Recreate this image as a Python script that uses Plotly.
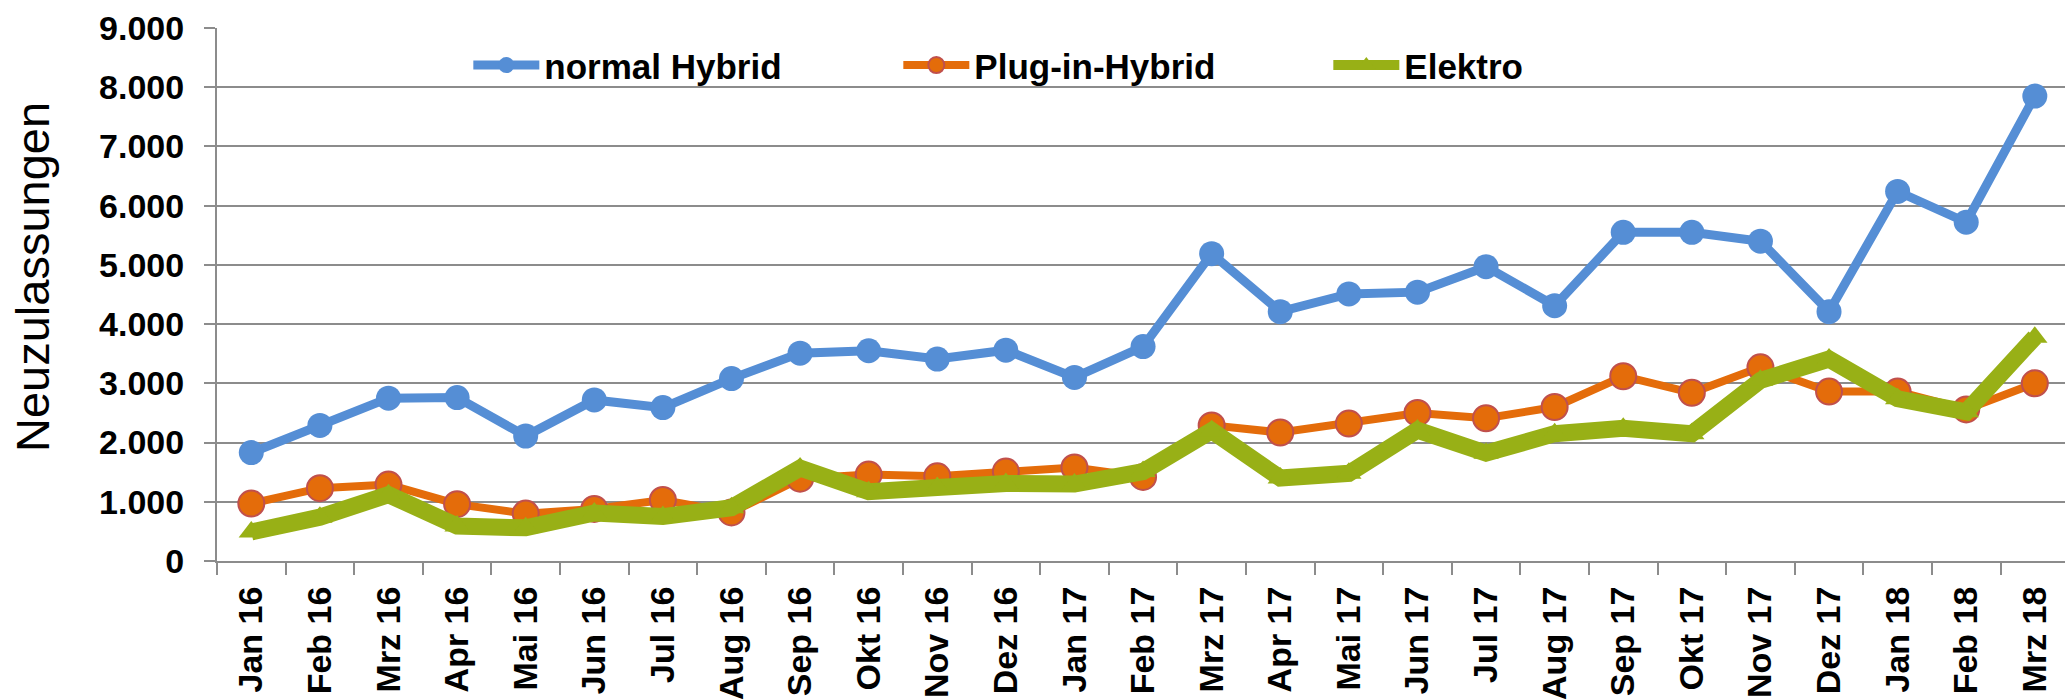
import plotly.graph_objects as go

months = ["Jan 16", "Feb 16", "Mrz 16", "Apr 16", "Mai 16", "Jun 16", "Jul 16", "Aug 16",
          "Sep 16", "Okt 16", "Nov 16", "Dez 16", "Jan 17", "Feb 17", "Mrz 17", "Apr 17",
          "Mai 17", "Jun 17", "Jul 17", "Aug 17", "Sep 17", "Okt 17", "Nov 17", "Dez 17",
          "Jan 18", "Feb 18", "Mrz 18"]

normal_hybrid = [1830, 2290, 2750, 2760, 2110, 2720, 2590, 3080, 3510, 3550, 3410, 3560, 3100,
                 3620, 5190, 4210, 4510, 4540, 4970, 4310, 5550, 5550, 5400, 4210, 6240, 5720, 7850]
plug_in_hybrid = [970, 1230, 1290, 960, 800, 880, 1030, 820, 1390, 1460, 1430, 1510, 1580,
                  1420, 2290, 2170, 2320, 2500, 2410, 2600, 3120, 2840, 3270, 2860, 2860, 2560, 3000]
elektro = [490, 740, 1120, 590, 560, 810, 750, 900, 1570, 1170, 1240, 1310, 1300,
           1510, 2200, 1400, 1480, 2210, 1820, 2150, 2240, 2150, 3050, 3410, 2740, 2520, 3780]

series_names = ["normal Hybrid", "Plug-in-Hybrid", "Elektro"]
y_ticks = [0, 1000, 2000, 3000, 4000, 5000, 6000, 7000, 8000, 9000]
y_title = "Neuzulassungen"

FONT = "Liberation Sans, Arial, sans-serif"
GRID = "#8c8c8c"

fig = go.Figure()
fig.add_trace(go.Scatter(
    x=months, y=normal_hybrid, name=series_names[0], mode="lines+markers",
    line=dict(color="#558ED5", width=9),
    marker=dict(symbol="circle", size=25, color="#558ED5", line=dict(width=0)),
))
fig.add_trace(go.Scatter(
    x=months, y=plug_in_hybrid, name=series_names[1], mode="lines+markers",
    line=dict(color="#E46C0A", width=8),
    marker=dict(symbol="circle", size=26, color="#E46C0A", line=dict(width=2, color="#C0504D")),
))
fig.add_trace(go.Scatter(
    x=months, y=elektro, name=series_names[2], mode="lines+markers",
    line=dict(color="#98B016", width=17),
    marker=dict(symbol="triangle-up", size=22, color="#98B016", line=dict(width=0)),
))

fig.update_layout(
    width=2065, height=700,
    margin=dict(l=217, r=0, t=28, b=137),
    paper_bgcolor="white", plot_bgcolor="white",
    separators=",.",
    font=dict(family=FONT, size=34, color="black"),
    showlegend=True,
    legend=dict(
        orientation="h", x=0.136, xanchor="left", y=0.93, yanchor="middle",
        bgcolor="rgba(0,0,0,0)", font=dict(family=FONT, size=35, weight="bold"),
        entrywidth=349, entrywidthmode="pixels", itemwidth=66,
    ),
    xaxis=dict(
        type="category", range=[-0.5, 26.44],
        tickangle=-90, tickson="boundaries", ticks="outside", ticklen=12, tickwidth=2,
        tickcolor=GRID, showline=True, linecolor=GRID, linewidth=2, showgrid=False,
        tickfont=dict(family=FONT, size=34, weight="bold"), ticklabelstandoff=10,
    ),
    yaxis=dict(
        range=[0, 9000], tickvals=y_ticks, tickformat=",d",
        ticks="outside", ticklen=11, tickwidth=2, tickcolor=GRID,
        showline=True, linecolor=GRID, linewidth=2,
        showgrid=True, gridcolor=GRID, gridwidth=2, zeroline=False,
        tickfont=dict(family=FONT, size=34, weight="bold"), ticklabelstandoff=13,
    ),
    annotations=[dict(
        text=y_title, textangle=-90, xref="paper", yref="paper",
        x=-0.0995, y=0.533, xanchor="center", yanchor="middle", showarrow=False,
        font=dict(family=FONT, size=47, color="black"),
    )],
)

fig.write_html(
    "out.html",
    config={"displayModeBar": False},
    post_script="document.body.style.margin='0';document.body.style.overflow='hidden';",
)
